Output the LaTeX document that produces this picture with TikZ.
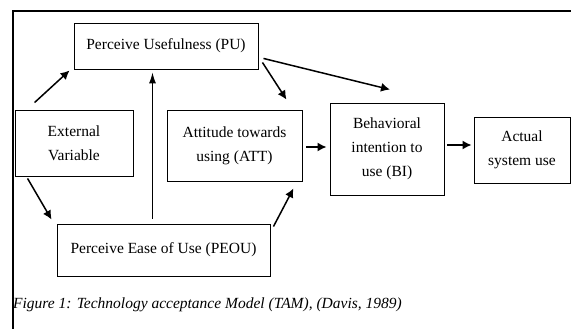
\documentclass[tikz,border=0pt]{standalone}
\usepackage{fontspec}
\setmainfont{Liberation Serif}
\usetikzlibrary{arrows.meta}
\tikzset{>={Latex[length=9pt,width=9pt]}}
\tikzset{
  box/.style={draw, line width=0.9pt, align=center, inner sep=0pt,
    font=\fontsize{15.5}{24}\selectfont},
  link/.style={->, line width=1.5pt}
}

\begin{document}
\begin{tikzpicture}[x=1pt,y=-1pt]
  \useasboundingbox (0,0) rectangle (571,329);
  \draw[line width=2.5pt] (13,329) -- (13,11) -- (571,11);
  % boxes
  \node[box, minimum width=184pt, minimum height=46pt] (pu) at (166,46) {Perceive Usefulness (PU)};
  \node[box, minimum width=118pt, minimum height=66pt] (ext) at (74,143) {External\\Variable};
  \node[box, minimum width=135pt, minimum height=71pt] (att) at (234.5,145.5) {Attitude towards\\using (ATT)};
  \node[box, minimum width=114pt, minimum height=92pt] (bi) at (387,149) {Behavioral\\intention to\\use (BI)};
  \node[box, minimum width=96pt, minimum height=66pt] (act) at (522,150) {Actual\\system use};
  \node[box, minimum width=213pt, minimum height=52pt] (peou) at (163.5,250) {Perceive Ease of Use (PEOU)};
  \node[anchor=west, inner sep=0pt, font=\fontsize{15.5}{18}\selectfont\itshape] (cap) at (13,305)
    {Figure 1: Technology acceptance Model (TAM), (Davis, 1989)};
  % arrows
  \draw[link] ([xshift=20pt,yshift=7pt]ext.north west) -- ([xshift=-4pt,yshift=-1pt]pu.south west);
  \draw[link] ([xshift=13pt,yshift=-2pt]ext.south west) -- ([xshift=-5pt,yshift=4pt]peou.north west);
  \draw[->, line width=1pt, >={Latex[length=11pt,width=7pt]}]
    ([xshift=-11pt,yshift=5pt]peou.north) -- ([xshift=-13.5pt,yshift=-3pt]pu.south);
  \draw[link] ([xshift=3pt,yshift=-3pt]peou.north east) -- ([xshift=-9pt,yshift=-7pt]att.south east);
  \draw[link] ([xshift=4pt,yshift=7pt]pu.south east) -- ([xshift=-16pt,yshift=10pt]att.north east);
  \draw[link] ([xshift=5pt,yshift=11pt]pu.south east) -- ([xshift=3pt,yshift=13pt]bi.north);
  \draw[link] ([xshift=4pt,yshift=-1.5pt]att.east) -- ([xshift=-3pt,yshift=2pt]bi.west);
  \draw[link] ([xshift=3pt,yshift=4pt]bi.east) -- ([xshift=-2pt,yshift=5pt]act.west);
\end{tikzpicture}
\end{document}
